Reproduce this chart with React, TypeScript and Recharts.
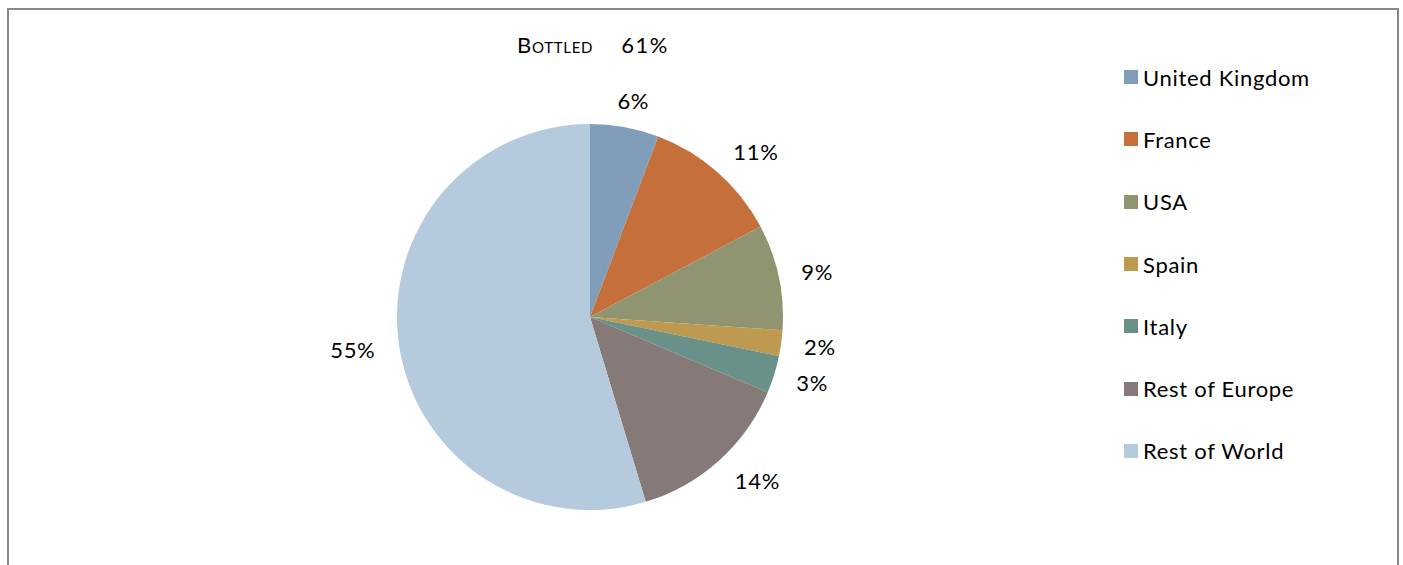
import { PieChart, Pie, Cell, Legend } from "recharts"

const countries = ["United Kingdom", "France", "USA", "Spain", "Italy", "Rest of Europe", "Rest of World"]
const shares = [5.75, 11.49, 8.85, 2.15, 3.15, 13.95, 54.66]
const colors = ["#809EBA", "#C5703B", "#909470", "#BE9A50", "#6A9189", "#857A77", "#B5CADC"]
const titleLabel = "Bottled"
const titleValue = "61%"

const data = countries.map((name, i) => ({ name, value: shares[i] }))

const FONT = "Lato, 'Noto Sans', sans-serif"
const SPACING = 0.7
const RADIAN = Math.PI / 180

// place the label box just outside the slice, pushed out by its own size
const renderLabel = (props: any) => {
  const { cx, cy, midAngle, outerRadius, percent } = props
  const text = `${Math.round(percent * 100)}%`
  const cos = Math.cos(-midAngle * RADIAN)
  const sin = Math.sin(-midAngle * RADIAN)
  const w = text.length * 15
  const h = 26
  const kx = Math.max(-1, Math.min(1, cos * 1.6))
  const x = cx + (outerRadius + 24) * cos + (kx * w) / 2
  const y = cy + (outerRadius + 14) * sin + (sin * h) / 2
  return (
    <text
      x={x}
      y={y}
      textAnchor="middle"
      dominantBaseline="central"
      fill="#000"
      fontSize={22}
      fontFamily={FONT}
      letterSpacing={SPACING}
    >
      {text}
    </text>
  )
}

const CustomLegend = () => (
  <div style={{ fontFamily: FONT, fontSize: 22, letterSpacing: SPACING, color: "#000" }}>
    {data.map((d, i) => (
      <div key={d.name} style={{ display: "flex", alignItems: "center", height: 62.3 }}>
        <div style={{ width: 14, height: 14, background: colors[i], marginRight: 5 }}></div>
        <span>{d.name}</span>
      </div>
    ))}
  </div>
)

export default function App() {
  return (
    <div style={{ position: "fixed", left: 0, top: 0, width: 1403, height: 565, overflow: "hidden", background: "#fff" }}>
      <div
        style={{
          position: "absolute",
          left: 7,
          top: 8,
          width: 1388,
          height: 620,
          border: "2px solid #898989",
          boxSizing: "content-box",
        }}
      ></div>
      <div
        style={{
          position: "absolute",
          left: 0,
          width: 1186,
          top: 31,
          textAlign: "center",
          fontFamily: FONT,
          fontSize: 22,
          letterSpacing: SPACING,
          color: "#000",
        }}
      >
        <span style={{ fontVariant: "small-caps", marginRight: 28 }}>{titleLabel}</span>
        <span style={{ letterSpacing: 1.5 }}>{titleValue}</span>
      </div>
      <div style={{ position: "absolute", left: 0, top: 0 }}>
        <PieChart width={1403} height={565} margin={{ top: 0, right: 0, bottom: 0, left: 0 }}>
          <Pie
            data={data}
            dataKey="value"
            nameKey="name"
            cx={590}
            cy={317}
            outerRadius={193}
            startAngle={90}
            endAngle={-270}
            stroke="none"
            label={renderLabel}
            labelLine={false}
            isAnimationActive={false}
          >
            {data.map((d, i) => (
              <Cell key={d.name} fill={colors[i]} />
            ))}
          </Pie>
          <Legend
            content={<CustomLegend />}
            layout="vertical"
            wrapperStyle={{ left: 1124, top: 46, width: 260 }}
          />
        </PieChart>
      </div>
    </div>
  )
}
